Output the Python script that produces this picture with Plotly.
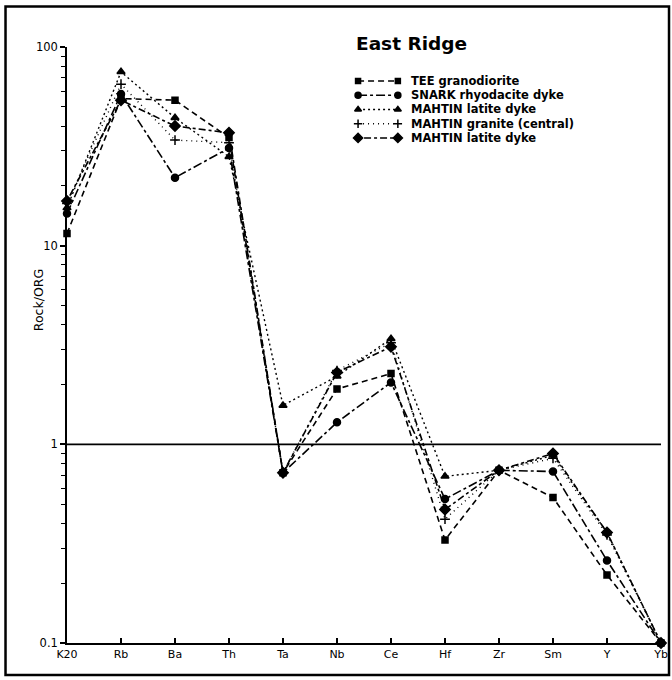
import plotly.graph_objects as go

# Elements on the spider diagram, in plotting order
elements = ["K20", "Rb", "Ba", "Th", "Ta", "Nb", "Ce", "Hf", "Zr", "Sm", "Y", "Yb"]

# Rock / ORG normalised values for each sample
tee_granodiorite = [11.5, 55, 54, 35, 0.72, 1.9, 2.27, 0.33, 0.74, 0.54, 0.22, 0.1]
snark_rhyodacite = [14.5, 58, 22, 31, 0.72, 1.29, 2.05, 0.53, 0.74, 0.73, 0.26, 0.1]
mahtin_latite = [15.5, 75, 44, 28, 1.57, 2.2, 3.4, 0.69, 0.74, 0.88, 0.36, 0.1]
mahtin_granite = [16.3, 65, 34, 33, 0.72, 2.35, 3.25, 0.42, 0.74, 0.85, 0.35, 0.1]
mahtin_latite_2 = [16.8, 54, 40, 37, 0.72, 2.3, 3.1, 0.47, 0.74, 0.9, 0.36, 0.1]

series_names = [
    "TEE granodiorite",
    "SNARK rhyodacite dyke",
    "MAHTIN latite dyke",
    "MAHTIN granite (central)",
    "MAHTIN latite dyke",
]
series_values = [tee_granodiorite, snark_rhyodacite, mahtin_latite,
                 mahtin_granite, mahtin_latite_2]

y_tick_values = [0.1, 1, 10, 100]
y_tick_labels = ["0.1", "1", "10", "100"]
y_minor_values = [m * d for d in (0.1, 1, 10) for m in range(2, 10)]

styles = [
    dict(dash="6px,4px", symbol="square", size=6, width=1.6),
    dict(dash="9px,3px,3px,3px", symbol="circle", size=7, width=1.6),
    dict(dash="2px,3px", symbol="triangle-up", size=7, width=1.4),
    dict(dash="1px,4px", symbol="cross-thin", size=7, width=1.4),
    dict(dash="3px,3px,7px,3px", symbol="diamond", size=8, width=1.6),
]

xpos = list(range(len(elements)))
FONT = "DejaVu Sans"

# Hand-built key: rows placed on an overlay axis spanning the plot area
key_x0, key_x1, key_text_x = 0.490, 0.557, 0.5755
key_top, key_step = 0.943, 0.0239

fig = go.Figure()
for i, (name, vals, st) in enumerate(zip(series_names, series_values, styles)):
    line = dict(color="black", width=st["width"], dash=st["dash"])
    marker = dict(symbol=st["symbol"], size=st["size"], color="black",
                  line=dict(color="black", width=1.5))
    fig.add_trace(go.Scatter(
        x=xpos, y=vals, name=name, mode="lines+markers",
        line=line, marker=marker, cliponaxis=False, showlegend=False,
    ))
    row_y = key_top - i * key_step
    fig.add_trace(go.Scatter(
        x=[key_x0, key_x1], y=[row_y, row_y], mode="lines+markers",
        line=line, marker=dict(marker, size=st["size"] - 1),
        xaxis="x2", yaxis="y2", showlegend=False, hoverinfo="skip",
        cliponaxis=False,
    ))
    fig.add_annotation(text=name, xref="paper", yref="paper",
                       x=key_text_x, y=row_y, xanchor="left",
                       yanchor="middle", showarrow=False,
                       font=dict(family=FONT, size=11.5, color="black",
                                 weight="bold"))

# Reference line at Rock/ORG = 1
fig.add_shape(type="line", xref="paper", yref="y", x0=0, x1=1, y0=1, y1=1,
              line=dict(color="black", width=1.6))

# Outer frame around the whole diagram
fig.add_shape(type="rect", xref="paper", yref="paper",
              x0=-0.1035, x1=1.0135, y0=-0.0535, y1=1.068,
              line=dict(color="black", width=2.5))

fig.add_annotation(text="East Ridge", xref="paper", yref="paper",
                   x=0.483, y=1.006, xanchor="left", yanchor="middle",
                   showarrow=False,
                   font=dict(family=FONT, size=18.5, color="black",
                             weight="bold"))
fig.add_annotation(text="Rock/ORG", xref="paper", yref="paper",
                   x=-0.049, y=0.575, textangle=-90, xanchor="center",
                   yanchor="middle", showarrow=False,
                   font=dict(family=FONT, size=12.5, color="black"))

fig.update_layout(
    width=672, height=680,
    margin=dict(l=67, r=11, t=47, b=37, autoexpand=False),
    paper_bgcolor="white", plot_bgcolor="white",
    font=dict(family=FONT, size=11, color="black"),
    showlegend=False,
    xaxis=dict(range=[0, len(elements) - 1], tickvals=xpos, ticktext=elements,
               showgrid=False, zeroline=False, showline=True,
               linecolor="black", linewidth=2, ticks="inside", ticklen=5,
               tickcolor="black", tickwidth=1.5, tickfont=dict(size=11)),
    yaxis=dict(type="log", range=[-1, 2], tickvals=y_tick_values,
               ticktext=y_tick_labels, showgrid=False, zeroline=False,
               showline=True, linecolor="black", linewidth=1.6,
               ticks="outside", ticklen=5, tickcolor="black", tickwidth=1.5,
               tickfont=dict(size=11.5),
               minor=dict(tickmode="array", tickvals=y_minor_values,
                          ticks="outside", ticklen=4, tickcolor="black",
                          tickwidth=1.2, showgrid=False)),
    xaxis2=dict(overlaying="x", range=[0, 1], visible=False, fixedrange=True),
    yaxis2=dict(overlaying="y", range=[0, 1], visible=False, fixedrange=True),
)

fig.write_html("out.html")
